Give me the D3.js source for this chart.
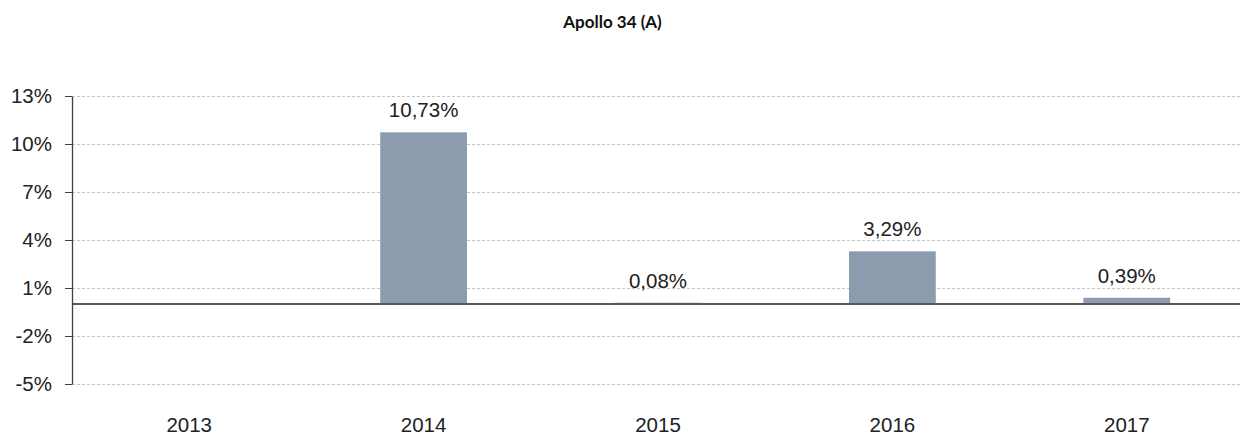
<!DOCTYPE html>
<html>
<head>
<meta charset="utf-8">
<script src="https://cdn.jsdelivr.net/npm/d3@7"></script>
<style>
  body { margin: 0; background: #fff; }
  svg { display: block; }
</style>
</head>
<body>
<div id="chart"></div>
<script>
const years = ["2013", "2014", "2015", "2016", "2017"];
const returns = [null, 10.73, 0.08, 3.29, 0.39];
const yTicks = [-5, -2, 1, 4, 7, 10, 13];
const chartTitle = "Apollo 34 (A)";

const width = 1240, height = 437;
const margin = {top: 96, right: -4, bottom: 53, left: 72};
const innerW = width - margin.left - margin.right;
const innerH = height - margin.top - margin.bottom;
const labelFont = "'Liberation Sans', Arial, sans-serif";

const svg = d3.select("#chart").append("svg")
    .attr("width", width)
    .attr("height", height);

svg.append("text")
    .attr("x", 612.5)
    .attr("y", 28)
    .attr("text-anchor", "middle")
    .style("font-family", "Lato, 'Open Sans', sans-serif")
    .style("font-weight", "bold")
    .style("font-size", "17px")
    .attr("fill", "#111")
    .text(chartTitle);

const g = svg.append("g")
    .attr("transform", "translate(" + margin.left + "," + margin.top + ")");

const xScale = d3.scaleBand().domain(years).range([0, innerW]).paddingInner(0.63).paddingOuter(0.315);
const yScale = d3.scaleLinear().domain([-5, 13]).range([innerH, 0]);

// gridlines
g.append("g").selectAll("line")
    .data(yTicks)
    .join("line")
    .attr("x1", 0)
    .attr("x2", innerW)
    .attr("y1", d => Math.round(yScale(d)) + 0.5)
    .attr("y2", d => Math.round(yScale(d)) + 0.5)
    .attr("stroke", "#c4c4c4")
    .attr("stroke-dasharray", "3,2");

const barData = years.map((y, i) => ({year: y, value: returns[i]})).filter(d => d.value !== null);

// bars
g.append("g").selectAll("rect")
    .data(barData)
    .join("rect")
    .attr("x", d => xScale(d.year))
    .attr("width", xScale.bandwidth())
    .attr("y", d => yScale(Math.max(0, d.value)))
    .attr("height", d => Math.abs(yScale(d.value) - yScale(0)))
    .attr("fill", "#8a9cad");

// value labels
g.append("g").selectAll("text")
    .data(barData)
    .join("text")
    .attr("x", d => xScale(d.year) + xScale.bandwidth() / 2)
    .attr("y", d => yScale(Math.max(0, d.value)) - 15)
    .attr("text-anchor", "middle")
    .style("font-family", labelFont)
    .style("font-size", "20.5px")
    .attr("fill", "#222")
    .text(d => d.value.toFixed(2).replace(".", ",") + "%");

// zero line
g.append("line")
    .attr("x1", 0)
    .attr("x2", innerW)
    .attr("y1", yScale(0))
    .attr("y2", yScale(0))
    .attr("stroke", "#595959")
    .attr("stroke-width", 2);

// y axis
const yAxis = g.append("g")
    .call(d3.axisLeft(yScale).tickValues(yTicks).tickSize(7).tickSizeOuter(0).tickFormat(d => d + "%"));
yAxis.select(".domain").attr("stroke", "#404040").attr("stroke-width", 1.3);
yAxis.selectAll(".tick line").attr("stroke", "#404040");
yAxis.selectAll(".tick text")
    .attr("x", -20)
    .style("font-family", labelFont)
    .style("font-size", "20.5px")
    .attr("fill", "#222");

// x labels
const xAxis = g.append("g")
    .attr("transform", "translate(0," + innerH + ")")
    .call(d3.axisBottom(xScale).tickSize(0));
xAxis.select(".domain").remove();
xAxis.selectAll(".tick text")
    .attr("dy", 0)
    .attr("y", 48)
    .style("font-family", labelFont)
    .style("font-size", "20.5px")
    .attr("fill", "#222");
</script>
</body>
</html>
